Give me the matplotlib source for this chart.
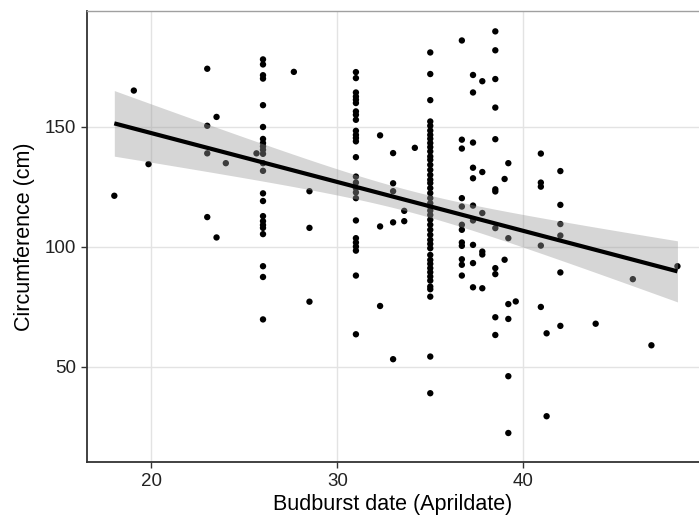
import numpy as np
import matplotlib
matplotlib.use("Agg")
import matplotlib.pyplot as plt

# ---- data (budburst date vs circumference) ----
x_18 = [18.0]; y_18 = [121.3]
x_19 = [19.05]; y_19 = [165.2]
x_198 = [19.84]; y_198 = [134.5]
x_23 = 23.0; y_23 = [174.3, 150.5, 139.0, 112.4]
x_235 = 23.5; y_235 = [154.2, 103.9]
x_24 = 24.0; y_24 = [134.9]
x_256 = 25.65; y_256 = [139.0]
x_26 = 26.0
y_26 = [178.2, 176.1, 171.6, 170.2, 159.1, 150.0, 145.0, 143.3, 141.9, 140.5, 138.8,
        134.9, 131.7, 122.3, 119.1, 112.8, 110.7, 109.1, 107.9, 105.3, 91.9, 87.4, 69.7]
x_277 = 27.66; y_277 = [173.0]
x_285 = 28.5; y_285 = [123.2, 107.9, 77.1]
x_31 = 31.0
y_31 = [172.9, 170.4, 164.4, 162.7, 161.4, 160.0, 156.5, 155.1, 153.0, 148.4, 146.7,
        145.4, 144.0, 137.4, 129.3, 126.8, 124.5, 122.7, 120.3, 111.0, 103.6, 101.8,
        100.1, 98.4, 88.0, 63.5]
x_323 = 32.3; y_323 = [146.5, 108.5, 75.3]
x_33 = 33.0; y_33 = [139.1, 126.5, 123.2, 110.2, 53.1]
x_336 = 33.6; y_336 = [110.7, 115.0]
x_342 = 34.17; y_342 = [141.3]
x_35 = 35.0
y_35 = [181.1, 172.1, 161.2, 152.3, 150.5, 148.5, 146.7, 145.1, 143.3, 141.6, 139.8,
        137.7, 136.3, 134.2, 132.1, 130.0, 128.0, 126.6, 124.5, 122.4, 120.3, 118.2,
        116.8, 115.1, 113.3, 111.3, 109.2, 107.1, 105.0, 102.9, 101.2, 99.4, 96.6,
        94.5, 92.9, 91.1, 89.4, 87.6, 85.9, 83.4, 82.3, 79.2, 54.2, 38.9]
x_367 = 36.7
y_367 = [186.1, 144.7, 141.0, 120.3, 116.8, 109.2, 107.1, 101.8, 100.4, 94.8, 92.5, 88.0]
x_373 = 37.3; y_373 = [171.7, 164.4, 143.5, 133.0, 128.6, 117.2, 111.0, 100.8, 93.2, 83.1]
x_378 = 37.8; y_378 = [169.1, 131.2, 114.1, 98.0, 96.8, 82.7]
x_385 = 38.5
y_385 = [189.9, 182.0, 170.0, 158.1, 144.9, 124.0, 123.1, 107.8, 91.1, 88.6, 70.6, 63.2]
x_390 = 39.0; y_390 = [128.3, 94.6]
x_392 = 39.2; y_392 = [134.9, 103.6, 76.1, 69.9, 46.0, 22.3]
x_396 = 39.6; y_396 = [77.2]
x_410 = 40.95; y_410 = [138.9, 126.8, 125.1, 100.5, 74.9]
x_413 = 41.26; y_413 = [63.9, 29.3]
x_420 = 42.0; y_420 = [131.6, 117.5, 109.5, 104.7, 89.3, 67.0]
x_439 = 43.9; y_439 = [67.9]
x_459 = 45.9; y_459 = [86.5]
x_469 = 46.9; y_469 = [58.9]
x_483 = 48.3; y_483 = [91.9]

groups = [
    (x_18[0], y_18), (x_19[0], y_19), (x_198[0], y_198), (x_23, y_23), (x_235, y_235),
    (x_24, y_24), (x_256, y_256), (x_26, y_26), (x_277, y_277), (x_285, y_285),
    (x_31, y_31), (x_323, y_323), (x_33, y_33), (x_336, y_336), (x_342, y_342),
    (x_35, y_35), (x_367, y_367), (x_373, y_373), (x_378, y_378), (x_385, y_385),
    (x_390, y_390), (x_392, y_392), (x_396, y_396), (x_410, y_410), (x_413, y_413),
    (x_420, y_420), (x_439, y_439), (x_459, y_459), (x_469, y_469), (x_483, y_483),
]
xs = np.concatenate([np.full(len(v), k, dtype=float) for k, v in groups])
ys = np.concatenate([np.asarray(v, dtype=float) for k, v in groups])

x_ticks = [20, 30, 40]
y_ticks = [50, 100, 150]

# ---- linear fit with 95% confidence band ----
n = len(xs)
b1, b0 = np.polyfit(xs, ys, 1)
resid = ys - (b0 + b1 * xs)
df = n - 2
s = np.sqrt(np.sum(resid ** 2) / df)
xbar = xs.mean()
sxx = np.sum((xs - xbar) ** 2)
z = 1.959964
tq = z + (z ** 3 + z) / (4 * df) + (5 * z ** 5 + 16 * z ** 3 + 3 * z) / (96 * df ** 2)
xg = np.linspace(xs.min(), xs.max(), 200)
yg = b0 + b1 * xg
se = s * np.sqrt(1.0 / n + (xg - xbar) ** 2 / sxx)

# ---- figure ----
fig = plt.figure(figsize=(6.99, 5.15), dpi=100)
ax = fig.add_axes([87 / 699, 53 / 515, 1 - 87 / 699, (462 - 11) / 515])
ax.set_facecolor("white")

ax.grid(True, color="#e3e3e3", linewidth=1.0, zorder=0)
ax.set_axisbelow(True)

ax.scatter(xs, ys, s=21, color="black", edgecolors="none", zorder=2)
ax.fill_between(xg, yg - tq * se, yg + tq * se, color="#999999", alpha=0.4,
                linewidth=0, zorder=3)
ax.plot(xg, yg, color="black", linewidth=3.0, zorder=4, solid_capstyle="butt")

ax.set_xlim(16.53, 49.46)
ax.set_ylim(10.2, 198.4)
ax.set_xticks(x_ticks)
ax.set_yticks(y_ticks)
ax.set_xticklabels([str(v) for v in x_ticks])
ax.set_yticklabels([str(v) for v in y_ticks])

for side in ["left", "bottom"]:
    ax.spines[side].set_color("#333333")
    ax.spines[side].set_linewidth(1.3)
ax.spines["top"].set_color("#a0a0a0")
ax.spines["top"].set_linewidth(1.0)
ax.spines["right"].set_visible(False)

ax.tick_params(axis="both", direction="out", length=4, width=1.0, color="#333333",
               labelsize=13.5, labelcolor="#222222", pad=4)
for lab in ax.get_xticklabels() + ax.get_yticklabels():
    lab.set_family("Liberation Sans")

ax.set_xlabel("Budburst date (Aprildate)", fontsize=15.5, family="Liberation Sans",
              labelpad=3)
ax.set_ylabel("Circumference (cm)", fontsize=15.5, family="Liberation Sans",
              labelpad=7)

fig.savefig("out.png", dpi=100)
